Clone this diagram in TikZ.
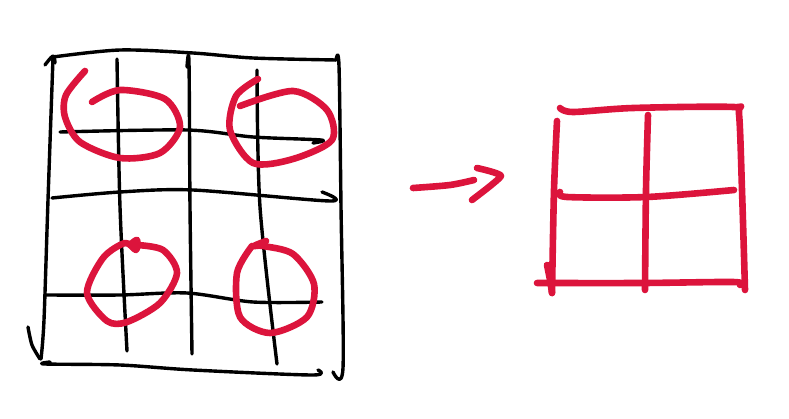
\documentclass[tikz,border=0pt]{standalone}
\begin{document}
\definecolor{ink}{RGB}{0,0,0}
\definecolor{pen}{RGB}{220,20,60}
\tikzset{
  blk/.style={draw=ink,line width=3.4pt,line cap=round,line join=round},
  red/.style={draw=pen,line width=6.6pt,line cap=round,line join=round}
}
\begin{tikzpicture}[x=1pt,y=-1pt]
\useasboundingbox[fill=white] (0,0) rectangle (789,419);
% ---- black grid ----
% left side with hooks
\draw[blk] plot[smooth,tension=0.6] coordinates {(45,65) (53,56) (55,63)};
\draw[blk] plot[smooth] coordinates {(53,58) (48,200) (44,320) (41,359)};
\draw[blk] plot[smooth] coordinates {(28,327) (32,345) (40,359)};
% top + right side
\draw[blk] plot[smooth] coordinates {(53,57) (120,50) (193,53) (253,58) (336,60)};
\draw[blk] plot[smooth] coordinates {(336,60) (339,66) (341,207) (343,368) (333,372)};
% bottom
\draw[blk] plot[smooth] coordinates {(50,362) (45,364) (120,365) (193,370) (312,375) (318,370)};
% verticals
\draw[blk] plot[smooth] coordinates {(117,59) (120,207) (127,351)};
\draw[blk] plot[smooth] coordinates {(187,67) (189,63) (190,207) (192,354)};
\draw[blk] plot[smooth] coordinates {(257,70) (260,207) (277,364)};
% horizontals
\draw[blk] plot[smooth] coordinates {(60,132) (187,130) (253,137) (321,140) (313,143)};
\draw[blk] plot[smooth] coordinates {(52,198) (120,192) (193,190) (330,201) (322,192)};
\draw[blk] plot[smooth] coordinates {(45,295) (120,295) (187,293) (253,302) (322,302)};
% ---- red circles ----
\draw[red] plot[smooth] coordinates {(85,71) (66,95) (65,117) (80,142) (120,158) (160,153) (180,127) (165,99) (120,90) (92,102)};
\draw[red] plot[smooth] coordinates {(258,79) (236,96) (230,130) (253,163) (293,159) (332,140) (327,110) (293,91) (240,106)};
\draw[red] plot[smooth] coordinates {(131,244) (137,240) (136,250) (125,243) (103,258) (87,293) (107,321) (127,322) (160,303) (177,273) (163,250) (137,245)};
\draw[red] plot[smooth] coordinates {(266,241) (254,246) (263,246) (293,254) (314,284) (307,317) (270,333) (240,317) (237,273) (252,246)};
% ---- red arrow ----
\draw[red] plot[smooth] coordinates {(413,188) (450,185) (474,180)};
\draw[red] plot[smooth,tension=0.3] coordinates {(477,168) (501,176) (472,200)};
% ---- red grid ----
\draw[red] plot[smooth] coordinates {(560,108) (573,112) (633,108) (733,107) (739,114) (742,190) (745,290)};
\draw[red] plot[smooth] coordinates {(557,121) (554,190) (552,293)};
\draw[red] plot[smooth] coordinates {(547,265) (550,280) (552,293)};
\draw[red] plot[smooth] coordinates {(537,283) (643,283) (733,282) (740,285)};
\draw[red] plot[smooth] coordinates {(648,115) (646,190) (645,290)};
\draw[red] plot[smooth] coordinates {(560,192) (567,197) (647,197) (734,190)};
\end{tikzpicture}
\end{document}
